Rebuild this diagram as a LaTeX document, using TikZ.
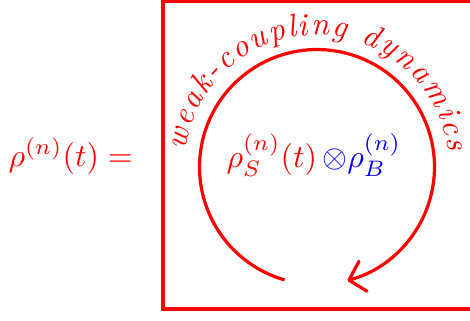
\documentclass[tikz,border=0pt]{standalone}
\usepackage{xcolor}
\usepackage{tikz}
\usetikzlibrary{arrows.meta,positioning,decorations.text}
\usepackage{amsmath}

\begin{document}
\begin{tikzpicture}[
    loopline/.style={red, line width=1pt, -{Straight Barb[length=1.6mm,width=3.4mm,round]}},
    frame/.style={red, line width=1.25pt}]
  \useasboundingbox (-3.481,-1.680) rectangle (1.680,1.834);
  \clip (-3.481,-1.680) rectangle (1.680,1.834);
  \coordinate (c) at (0,0);
  % box on the right
  \draw[frame] (-1.691,-1.559) rectangle (2.2,1.823);
  % loop with its label
  \draw[loopline] (c) ++(254:1.29) arc[start angle=254, end angle=-75, radius=1.29];
  \path[decorate, decoration={text along path, text color=red,
      text={|\itshape|weak-coupling dynamics}, text align=center, raise=1.9mm}]
    (c) ++(180:1.26) arc[start angle=180, end angle=0, radius=1.26];
  \node[anchor=base, inner sep=0pt, red] (prod) at (-0.033,0)
    {$\rho_S^{(n)}(t)\,{\color{blue}\otimes\rho_B^{(n)}}$};
  \node[anchor=base west, inner sep=0pt, red] (lhs) at (-3.393,0.01)
    {$\rho^{(n)}(t) =$};
\end{tikzpicture}
\end{document}
